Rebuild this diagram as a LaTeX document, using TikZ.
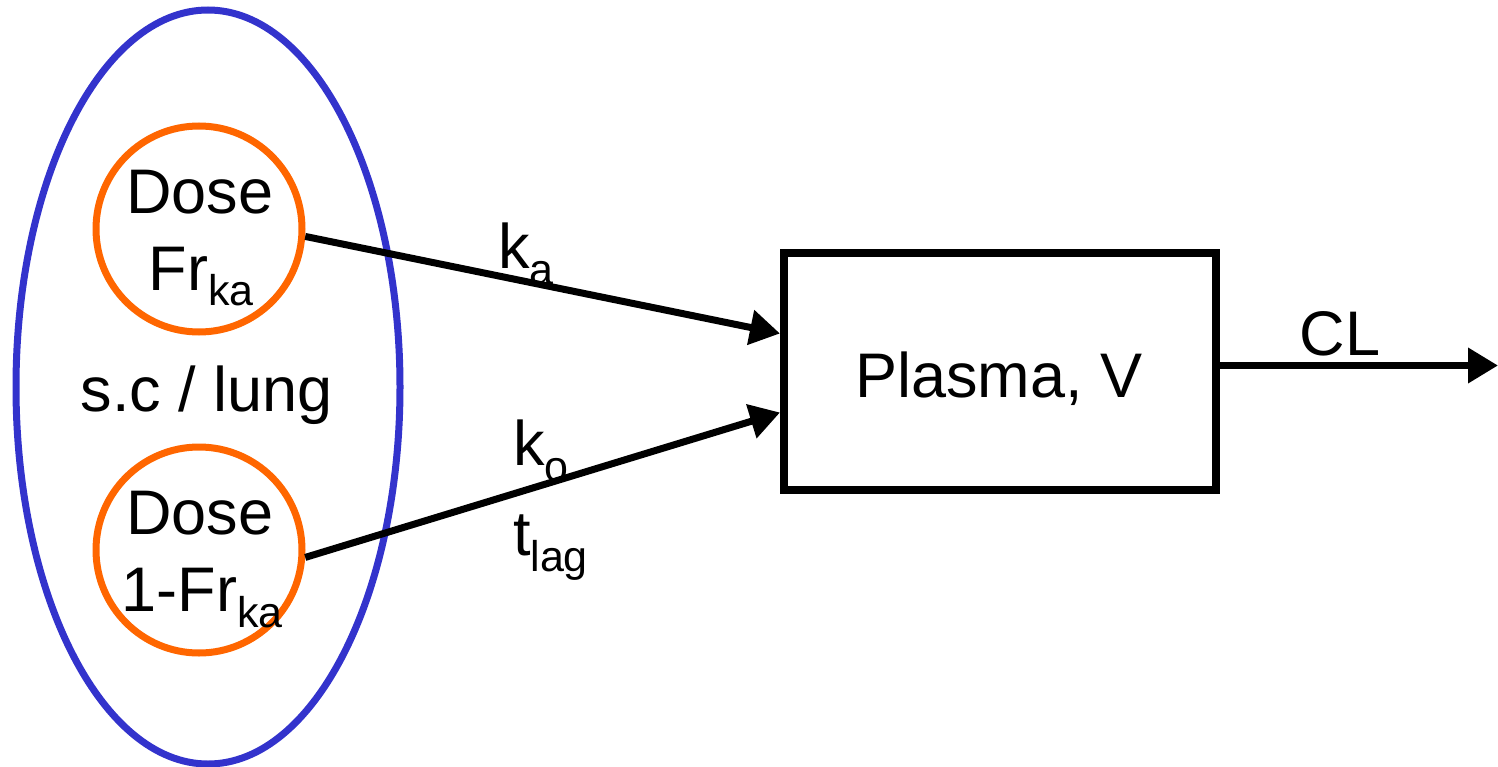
\documentclass[tikz,border=0pt]{standalone}
\usepackage{fontspec}
\setmainfont{Liberation Sans}
\usetikzlibrary{arrows.meta,shapes.geometric}
\definecolor{siteblue}{RGB}{51,51,204}
\definecolor{doseorange}{RGB}{255,102,0}
\newcommand\mysub[1]{\raisebox{-16pt}{\fontsize{43}{43}\selectfont #1}}
\begin{document}
\begin{tikzpicture}[x=1pt,y=-1pt,
 lbl/.style={inner sep=0,outer sep=0,font=\fontsize{63}{75}\selectfont},
 site/.style={ellipse,draw=siteblue,line width=7pt,minimum width=384pt,minimum height=754pt,inner sep=0},
 dosec/.style={circle,draw=doseorange,line width=7pt,minimum size=206pt,inner sep=0},
 box/.style={rectangle,draw=black,line width=8pt,minimum width=432pt,minimum height=237pt,inner sep=0},
 flow/.style={line width=7pt,-{Triangle[length=30pt,width=34pt]}}]
\useasboundingbox (0,0) rectangle (1498,767);
\node[site] (site) at (208,387) {};
\node[dosec] (d1) at (199,229) {};
\node[dosec] (d2) at (199,550) {};
\node[box] (plasma) at (1000,371.5) {};
\coordinate (out) at (1498,365.5);
\node[lbl,anchor=base] (d1a) at (200,214) {Dose};
\node[lbl,anchor=base] (d1b) at (201,290) {Fr\mysub{ka}};
\node[lbl,anchor=base] (sitetxt) at (207,411) {s.c / lung};
\node[lbl,anchor=base] (d2a) at (200,534) {Dose};
\node[lbl,anchor=base] (d2b) at (202,611) {1-Fr\mysub{ka}};
\node[lbl,anchor=base] (plasmatxt) at (999,397) {Plasma, V};
\node[lbl,anchor=base] (cltxt) at (1340,355) {CL};
\node[lbl,anchor=base west] (katxt) at (498,269) {k\mysub{a}};
\node[lbl,anchor=base west] (kotxt) at (513,465) {k\mysub{o}};
\node[lbl,anchor=base west] (tlagtxt) at (513,555) {t\mysub{lag}};
\draw[flow] (d1.-4) -- ([yshift=38pt]plasma.west);
\draw[flow] (d2.-4) -- ([yshift=-41pt]plasma.west);
\draw[flow] ([yshift=6pt]plasma.east) -- (out);
\end{tikzpicture}
\end{document}
